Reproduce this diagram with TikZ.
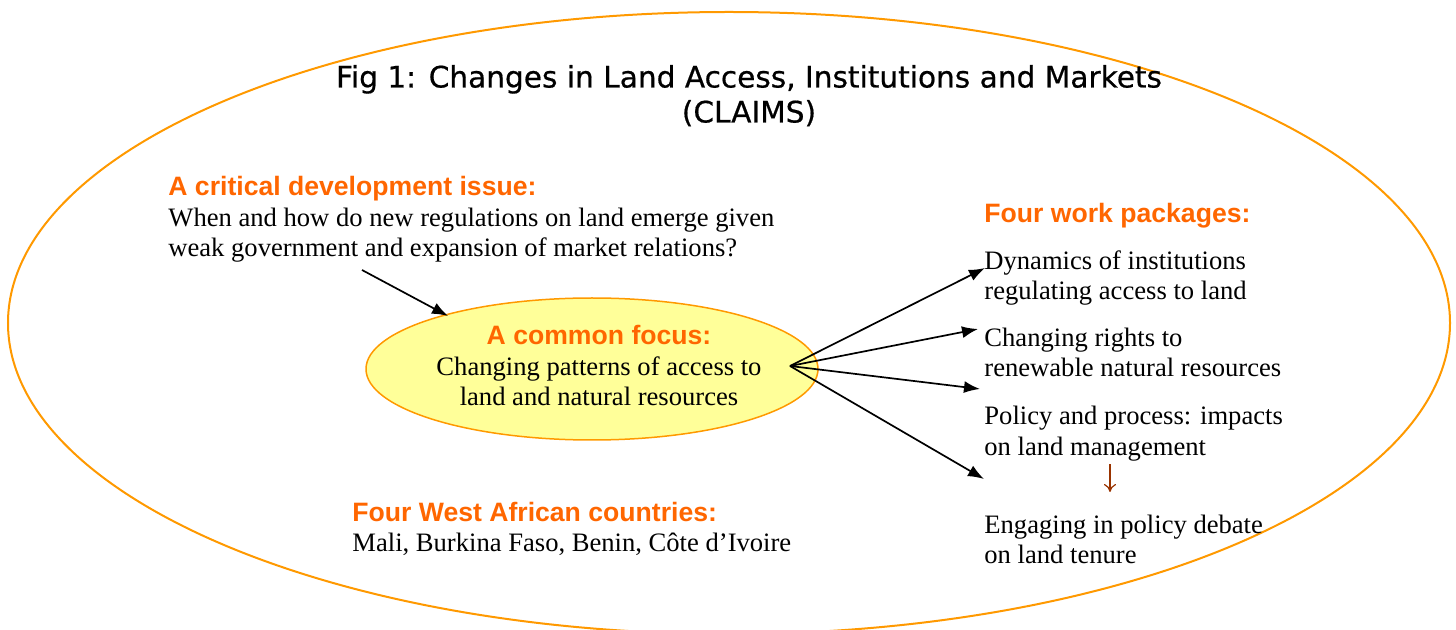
\documentclass[tikz,border=0pt]{standalone}
\usepackage{fontspec}
\setmainfont{Liberation Serif}
\newfontfamily\headfont{Liberation Sans}
\newfontfamily\titlefont[FakeBold=0.6]{DejaVu Sans}
\usetikzlibrary{shapes.geometric,arrows.meta}
\definecolor{headorange}{HTML}{FF6600}
\definecolor{ringorange}{HTML}{FF9900}
\definecolor{focusfill}{HTML}{FFFF99}
\definecolor{brownarrow}{HTML}{993300}
\tikzset{
  head/.style={anchor=base west, inner sep=0pt, text=headorange,
    font=\headfont\bfseries\fontsize{13.3pt}{15pt}\selectfont},
  body/.style={anchor=base west, inner sep=0pt, align=left,
    font=\fontsize{13.3pt}{15pt}\selectfont},
  ring/.style={draw=ringorange, line width=1pt},
  conn/.style={draw=black, line width=0.85pt, -{Latex[length=8pt,width=6pt]}},
  smallconn/.style={draw=brownarrow, line width=0.6pt, -{To[length=4pt,width=6pt]}},
}
\begin{document}
\begin{tikzpicture}[x=0.5pt,y=-0.5pt]
\useasboundingbox (0,0) rectangle (1456,630);
% outer ring
\draw[ring] (729,323) ellipse [x radius=360.5pt, y radius=155.5pt];
% title (anchor = baseline of its last line)
\node[inner sep=0pt, anchor=base, align=center,
  font=\titlefont\fontsize{14.8pt}{17.5pt}\selectfont] (title) at (749,122.5)
  {Fig 1: Changes in Land Access, Institutions and Markets\\(CLAIMS)};
% critical issue
\node[head] (issuehead) at (168,196) {A critical development issue:};
\node[body] (issue) at (168,257) {When and how do new regulations on land emerge given\\weak government and expansion of market relations?};
% focus ellipse
\node[ellipse, draw=ringorange, fill=focusfill, line width=0.75pt,
  minimum width=226pt, minimum height=71pt, inner sep=0pt] (focus) at (592,369) {};
\node[head, anchor=base] (focushead) at (599,345) {A common focus:};
\node[body, anchor=base, align=center] (focustext) at (599,405.5) {Changing patterns of access to\\land and natural resources};
% countries
\node[head] (counthead) at (352,521) {Four West African countries:};
\node[body] (countries) at (352,551) {Mali, Burkina Faso, Benin, Côte d’Ivoire};
% work packages
\node[head] (wphead) at (984,223) {Four work packages:};
\node[body] (wp1) at (984,300) {Dynamics of institutions\\regulating access to land};
\node[body] (wp2) at (984,377) {Changing rights to\\renewable natural resources};
\node[body] (wp3) at (984,455) {Policy and process: impacts\\on land management};
\node[body] (wp4) at (984,563) {Engaging in policy debate\\on land tenure};
% connectors
\coordinate (issA) at (362,270);
\coordinate (issB) at (448,316);
\draw[conn] (issA) -- (issB);
\coordinate (hub) at (790,366);
\coordinate (t1) at (985,268);
\coordinate (t2) at (978,329);
\coordinate (t3) at (980,389);
\coordinate (t4) at (984,479);
\draw[conn] (hub) -- (t1);
\draw[conn] (hub) -- (t2);
\draw[conn] (hub) -- (t3);
\draw[conn] (hub) -- (t4);
\coordinate (dA) at (1110,464);
\coordinate (dB) at (1110,492);
\draw[smallconn] (dA) -- (dB);
\end{tikzpicture}
\end{document}
